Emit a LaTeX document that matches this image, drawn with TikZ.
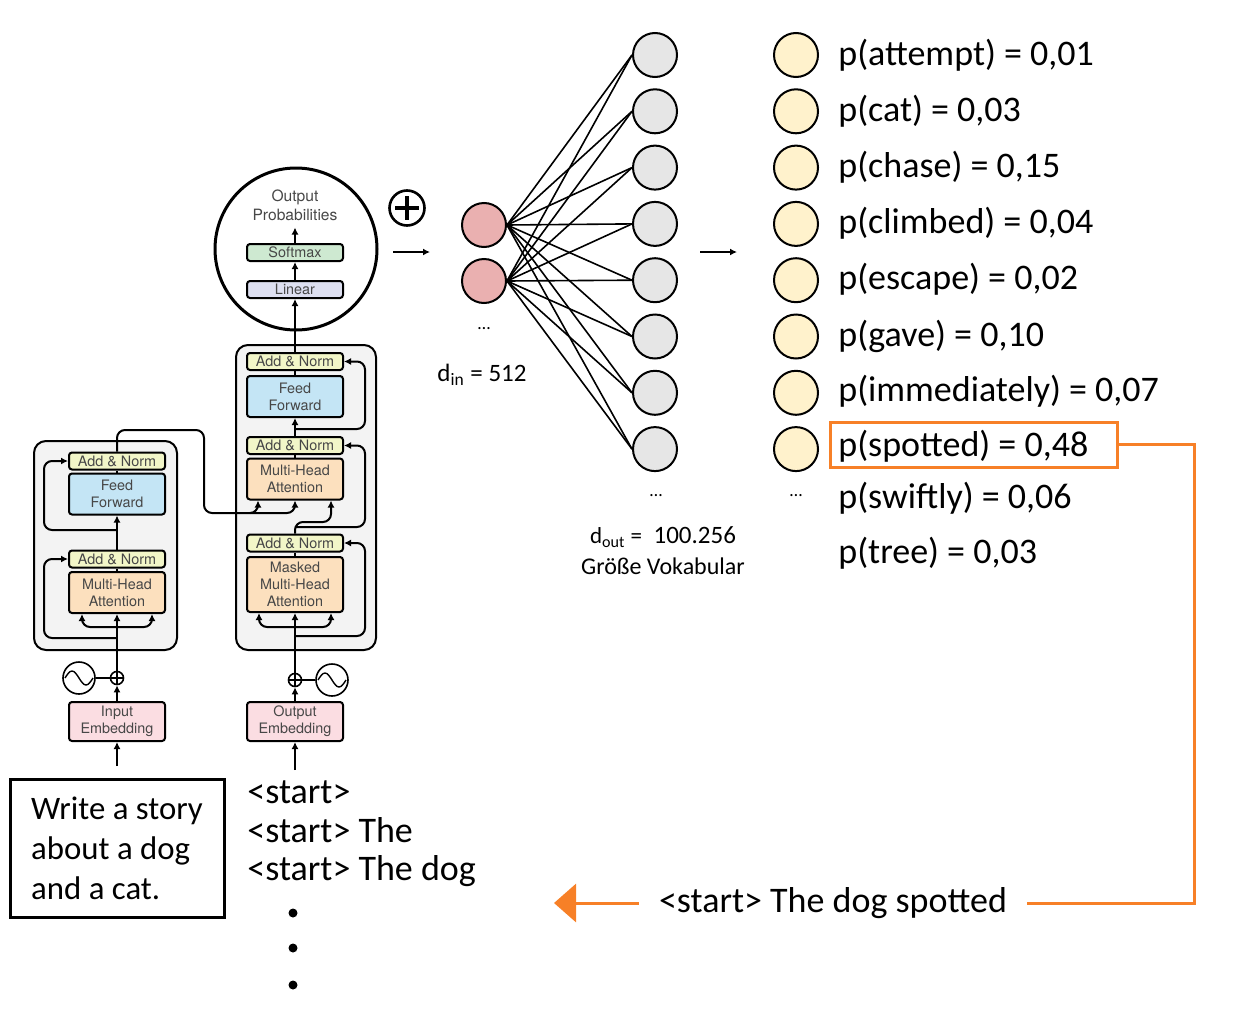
\documentclass[tikz,border=0pt]{standalone}
\usepackage{fontspec}
\setmainfont{Carlito}
\newfontfamily\helv{TeX Gyre Heros}
\usetikzlibrary{arrows.meta,calc,positioning}
\definecolor{stackgray}{RGB}{243,243,243}
\definecolor{normyellow}{RGB}{242,246,200}
\definecolor{ffblue}{RGB}{196,229,245}
\definecolor{attorange}{RGB}{252,224,190}
\definecolor{embpink}{RGB}{251,221,226}
\definecolor{linearblue}{RGB}{221,223,240}
\definecolor{softgreen}{RGB}{206,233,209}
\definecolor{nnred}{RGB}{234,176,176}
\definecolor{nngray}{RGB}{230,230,230}
\definecolor{probyellow}{RGB}{255,242,204}
\definecolor{looporange}{RGB}{247,128,39}

\tikzset{
  wire/.style={line width=1pt},
  arr/.style={wire,-{Latex[length=3.5pt,width=3.5pt]}},
  stack/.style={draw,line width=1pt,fill=stackgray,rounded corners=6pt},
  layer/.style={draw,line width=1pt,rounded corners=1.5pt,minimum width=48pt,inner sep=0pt,
    align=center,text=black!72,font=\helv\fontsize{7.2}{8.5}\selectfont},
  addnorm/.style={layer,fill=normyellow,minimum height=8.5pt},
  ffn/.style={layer,fill=ffblue,minimum height=20.5pt},
  attn/.style={layer,fill=attorange,minimum height=20.5pt},
  embed/.style={layer,fill=embpink,minimum height=19.5pt},
  oplus/.style={draw,circle,line width=0.8pt,minimum size=6.5pt,inner sep=0pt,
    path picture={\draw[line width=0.8pt] (path picture bounding box.north) -- (path picture bounding box.south)
      (path picture bounding box.west) -- (path picture bounding box.east);}},
  bigplus/.style={draw,circle,line width=1.3pt,minimum size=17.5pt,inner sep=0pt,
    path picture={\draw[line width=1.7pt] ([yshift=6pt]path picture bounding box.center) -- ([yshift=-6pt]path picture bounding box.center)
      ([xshift=-6pt]path picture bounding box.center) -- ([xshift=6pt]path picture bounding box.center);}},
  posenc/.style={draw,circle,line width=0.8pt,minimum size=16pt,inner sep=0pt,
    path picture={\draw[line width=0.7pt] ([xshift=-7pt]path picture bounding box.center)
      sin ++(3.5pt,3.5pt) cos ++(3.5pt,-3.5pt) sin ++(3.5pt,-3.5pt) cos ++(3.5pt,3.5pt);}},
  unit/.style={draw,circle,line width=1pt,minimum size=22pt,inner sep=0pt},
  inunit/.style={unit,fill=nnred},
  outunit/.style={unit,fill=nngray},
  probunit/.style={unit,fill=probyellow},
  synapse/.style={line width=0.8pt},
  prob/.style={anchor=west,inner sep=0pt,font=\fontsize{18}{22}\selectfont},
  seq/.style={anchor=base west,inner sep=0pt,font=\fontsize{18}{22}\selectfont},
  loopline/.style={draw=looporange,line width=1.5pt},
  vdot/.style={circle,fill=black,minimum size=4.5pt,inner sep=0pt},
}

\begin{document}
\begin{tikzpicture}[x=0.5pt,y=-0.5pt]
\useasboundingbox (0,0) rectangle (1236,1012);

% encoder / decoder stacks
\draw[stack] (34,441) rectangle (177,650);
\draw[stack] (236,345) rectangle (376,650);

\node[addnorm] (encAN2) at (117,461) {Add \& Norm};
\node[ffn] (encFF) at (117,494) {Feed\\Forward};
\node[addnorm] (encAN1) at (117,559) {Add \& Norm};
\node[attn] (encMHA) at (117,592.5) {Multi-Head\\Attention};
\node[embed] (inEmb) at (117,721.5) {Input\\Embedding};
\node[oplus] (encAdd) at (117,678) {};
\node[posenc] (encPos) at (79,678) {};

\node[addnorm] (decAN3) at (295,361.5) {Add \& Norm};
\node[ffn] (decFF) at (295,396.5) {Feed\\Forward};
\node[addnorm] (decAN2) at (295,445.5) {Add \& Norm};
\node[attn] (decMHA) at (295,479) {Multi-Head\\Attention};
\node[addnorm] (decAN1) at (295,543) {Add \& Norm};
\node[attn,minimum height=27.5pt] (decMMHA) at (295,584.5) {Masked\\Multi-Head\\Attention};
\node[embed] (outEmb) at (295,721.5) {Output\\Embedding};
\node[oplus] (decAdd) at (295,680) {};
\node[posenc] (decPos) at (332,680) {};

\node[layer,fill=linearblue,minimum height=8.5pt] (linear) at (295,289.5) {Linear};
\node[layer,fill=softgreen,minimum height=8.5pt] (softmax) at (295,252.5) {Softmax};
\node[align=center,text=black!72,font=\helv\fontsize{7.8}{9.5}\selectfont] (outProb) at (295,205) {Output\\Probabilities};
\node[draw,circle,line width=1.5pt,minimum size=81pt] (head) at (296,249) {};

% encoder wiring
\coordinate (inTok) at (117,766);
\draw[arr] (inTok) -- (inEmb);
\draw[arr] (inEmb) -- (encAdd);
\draw[wire] (encPos) -- (encAdd);
\draw[arr] (encAdd) -- (encMHA);
\draw[arr,rounded corners=4pt] (117,627) -| ($(encMHA.south)+(-35,0)$);
\draw[arr,rounded corners=4pt] (117,627) -| ($(encMHA.south)+(35,0)$);
\draw[arr,rounded corners=4pt] (117,638) -| (44,559) -- (encAN1);
\draw[wire] (encMHA) -- (encAN1);
\draw[arr] (encAN1) -- (encFF);
\draw[arr,rounded corners=4pt] (117,530) -| (44,461) -- (encAN2);
\draw[wire] (encFF) -- (encAN2);
\draw[arr,rounded corners=4pt] (encAN2) |- (204,430) |- (240,513) -| ($(decMHA.south)+(-37,0)$);
\draw[arr,rounded corners=4pt] (250,513) -| (decMHA.south);

% decoder wiring
\coordinate (outTok) at (295,770);
\draw[arr] (outTok) -- (outEmb);
\draw[arr] (outEmb) -- (decAdd);
\draw[wire] (decAdd) -- (decPos);
\draw[arr] (decAdd) -- (decMMHA);
\draw[arr,rounded corners=4pt] (295,627) -| ($(decMMHA.south)+(-36,0)$);
\draw[arr,rounded corners=4pt] (295,627) -| ($(decMMHA.south)+(36,0)$);
\draw[arr,rounded corners=4pt] (295,636) -| (365,543) -- (decAN1);
\draw[wire] (decMMHA) -- (decAN1);
\draw[arr,rounded corners=4pt] (decAN1) |- (315,522) -| ($(decMHA.south)+(36,0)$);
\draw[arr,rounded corners=4pt] (295,527) -| (365,445.5) -- (decAN2);
\draw[wire] (decMHA) -- (decAN2);
\draw[arr] (decAN2) -- (decFF);
\draw[arr,rounded corners=4pt] (295,429) -| (365,361.5) -- (decAN3);
\draw[wire] (decFF) -- (decAN3);
\draw[arr] (decAN3) -- (linear);
\draw[arr] (linear) -- (softmax);
\draw[arr] (softmax) -- (outProb);

% linear layer as a network
\node[bigplus] (concat) at (407,208) {};
\coordinate (netInA) at (393,252);
\coordinate (netInB) at (430,252);
\draw[arr] (netInA) -- (netInB);

\node[inunit] (r1) at (484,225) {};
\node[inunit] (r2) at (484,281) {};
\foreach \i in {1,...,8} {
  \pgfmathsetmacro\yy{55+56.3*(\i-1)}
  \node[outunit] (g\i) at (655,\yy) {};
  \node[probunit] (p\i) at (796,\yy) {};
  \draw[synapse] (r1.east) -- (g\i.west);
  \draw[synapse] (r2.east) -- (g\i.west);
}
\node[font=\fontsize{9}{10}\selectfont] (inDots) at (484,329) {\dots};
\node[font=\fontsize{9}{10}\selectfont] (outDots) at (656,496) {\dots};
\node[font=\fontsize{9}{10}\selectfont] (probDots) at (796,496) {\dots};
\node[font=\fontsize{12.5}{14}\selectfont] (dIn) at (482,375) {d\textsubscript{in} = 512};
\node[font=\fontsize{11.5}{13}\selectfont] (dOut) at (663,537) {d\textsubscript{out} =\enspace{\fontsize{12.5}{14}\selectfont 100.256}};
\node[font=\fontsize{12}{14}\selectfont] (vocab) at (663,566) {Größe Vokabular};

\coordinate (netOutA) at (700,252);
\coordinate (netOutB) at (737,252);
\draw[arr] (netOutA) -- (netOutB);

% token probabilities
\node[prob] (w1) at (838,55) {p(attempt) = 0,01};
\node[prob] (w2) at (838,111) {p(cat) = 0,03};
\node[prob] (w3) at (838,167) {p(chase) = 0,15};
\node[prob] (w4) at (838,223) {p(climbed) = 0,04};
\node[prob] (w5) at (838,279) {p(escape) = 0,02};
\node[prob] (w6) at (838,336) {p(gave) = 0,10};
\node[prob] (w7) at (838,391) {p(immediately) = 0,07};
\node[prob] (w8) at (838,446) {p(spotted) = 0,48};
\node[prob] (w9) at (838,498) {p(swiftly) = 0,06};
\node[prob] (w10) at (838,553) {p(tree) = 0,03};
\node[draw=looporange,line width=1.5pt,minimum width=143.5pt,minimum height=22.5pt] (spotBox) at (973.5,444.5) {};

% feedback of the chosen token
\node[inner sep=10pt,font=\fontsize{18}{22}\selectfont] (newSeq) at (833,903) {<start> The dog spotted};
\coordinate (turn) at (1194,903);
\coordinate (loopEnd) at (554,903);
\draw[loopline] (spotBox) -| (turn) -- (newSeq);
\draw[loopline,-{Triangle[length=11pt,width=19pt]}] (newSeq) -- (loopEnd);

% inputs
\node[draw,line width=1.5pt,minimum width=107pt,minimum height=69pt,align=left,
  font=\fontsize{16.4}{20}\selectfont] (prompt) at (117,848) {Write a story\\about a dog\\and a cat.};
\node[seq] (s1) at (247,803) {<start>};
\node[seq] (s2) at (247,842) {<start> The};
\node[seq] (s3) at (247,880) {<start> The dog};
\node[vdot] (v1) at (293,913) {};
\node[vdot] (v2) at (293,948) {};
\node[vdot] (v3) at (293,985) {};
\end{tikzpicture}
\end{document}
